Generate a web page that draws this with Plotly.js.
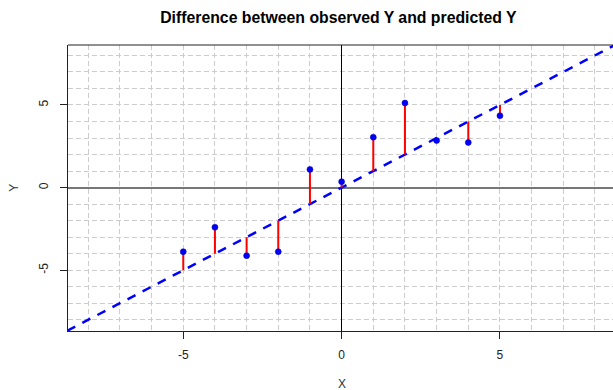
<!DOCTYPE html>
<html>
<head>
<meta charset="utf-8">
<script src="https://cdn.plot.ly/plotly-3.0.1.min.js"></script>
<style>html,body{margin:0;padding:0;background:#fff;}#chart{width:613px;height:390px;}</style>
</head>
<body>
<div id="chart"></div>
<script>
// Data
const xValues = [-5, -4, -3, -2, -1, 0, 1, 2, 3, 4, 5];
const observedY = [-3.88, -2.4, -4.12, -3.88, 1.1, 0.36, 3.05, 5.12, 2.85, 2.73, 4.35];
const intercept = 0;
const slope = 1;
const tickValues = [-5, 0, 5];
const tickLabels = ['-5', '0', '5'];
const xRange = [-8.64, 8.57];
const yRange = [-8.68, 8.63];

const predictedY = xValues.map(x => intercept + slope * x);

// red residual segments
const segX = [], segY = [];
xValues.forEach((x, i) => {
  segX.push(x, x, null);
  segY.push(predictedY[i], observedY[i], null);
});

const lineX = [xRange[0] - 0.5, xRange[1] + 0.5];
const lineY = lineX.map(x => intercept + slope * x);

const font = 'Liberation Sans, Arial, sans-serif';
const gridColor = '#cccccc';

const traces = [
  {
    x: lineX, y: lineY, mode: 'lines', type: 'scatter',
    line: {color: '#0000ff', width: 2.5, dash: '9px,8px'},
    hoverinfo: 'skip', showlegend: false, cliponaxis: true
  },
  {
    x: segX, y: segY, mode: 'lines', type: 'scatter',
    line: {color: '#ff0000', width: 2},
    hoverinfo: 'skip', showlegend: false
  },
  {
    x: xValues, y: observedY, mode: 'markers', type: 'scatter',
    marker: {color: '#0000ff', size: 6, line: {color: '#0000aa', width: 0.5}},
    showlegend: false
  }
];

const axisCommon = {
  tickmode: 'array',
  tickvals: tickValues,
  ticktext: tickLabels,
  ticks: 'outside',
  ticklen: 7,
  tickwidth: 1,
  tickcolor: '#222',
  showline: true,
  linecolor: '#222',
  linewidth: 1,
  showgrid: true,
  gridcolor: gridColor,
  gridwidth: 1,
  griddash: '5px,3px',
  minor: {tickmode: 'linear', tick0: 0, dtick: 1, showgrid: true, gridcolor: gridColor, gridwidth: 1, griddash: '5px,3px', ticks: ''},
  tickfont: {family: font, size: 12, color: '#222'},
  fixedrange: true
};

const layout = {
  width: 613, height: 390,
  margin: {l: 68, r: 0, t: 45, b: 59, pad: 0},
  paper_bgcolor: '#fff', plot_bgcolor: '#fff',
  title: {
    text: 'Difference between observed Y and predicted Y',
    font: {family: font, size: 15.8, color: '#000', weight: 'bold'},
    xref: 'container', x: 0.552, xanchor: 'center',
    yref: 'container', y: 1 - 17 / 390, yanchor: 'middle'
  },
  xaxis: Object.assign({}, axisCommon, {
    range: xRange, mirror: false,
    zeroline: true, zerolinecolor: '#000', zerolinewidth: 1,
    ticklabelstandoff: 6
  }),
  yaxis: Object.assign({}, axisCommon, {
    range: yRange, tickangle: -90,
    zeroline: true, zerolinecolor: '#777', zerolinewidth: 2,
    ticklabelstandoff: 7
  }),
  shapes: [
    {type: 'line', xref: 'paper', yref: 'paper', x0: 0, x1: 1, y0: 1, y1: 1, line: {color: '#222', width: 1}, layer: 'above'}
  ],
  annotations: [
    {text: 'X', xref: 'paper', yref: 'paper', x: (341.7 - 68) / 545, y: -(383.5 - 331) / 286, xanchor: 'center', yanchor: 'middle', showarrow: false, font: {family: font, size: 12, color: '#333'}},
    {text: 'Y', xref: 'paper', yref: 'paper', x: (14 - 68) / 545, y: (331 - 187.7) / 286, xanchor: 'center', yanchor: 'middle', textangle: -90, showarrow: false, font: {family: font, size: 12, color: '#333'}}
  ]
};

Plotly.newPlot('chart', traces, layout, {staticPlot: true, displayModeBar: false});
</script>
</body>
</html>
